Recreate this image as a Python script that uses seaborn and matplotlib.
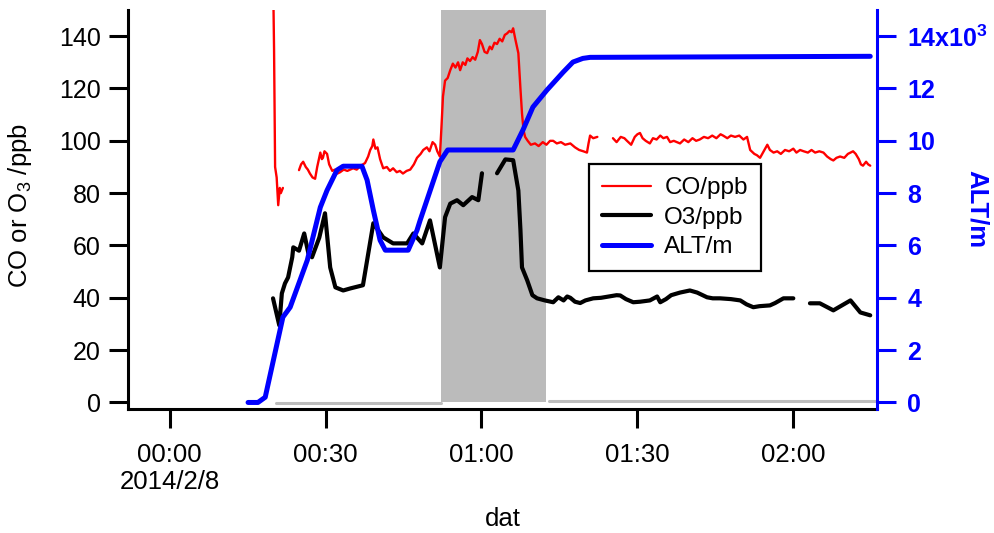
import numpy as np
import pandas as pd
import matplotlib
matplotlib.use("Agg")
import matplotlib.pyplot as plt
from matplotlib.lines import Line2D
import seaborn as sns

# ---------------- data (minutes after 2014/2/8 00:00) ----------------
NA = np.nan
alt_t = [15.1, 17.0, 18.4, 21.8, 23.2, 26.5, 29.0, 30.3, 32.2, 33.4, 37.0, 38.0, 39.2,
         40.5, 41.5, 45.9, 47.6, 48.2, 52.0, 53.5, 54.4, 66.1, 68.0, 69.9, 72.6, 75.7,
         77.6, 79.5, 80.9, 134.8]
alt_m = [0, 0, 200, 3260, 3640, 5440, 7460, 8110, 8880, 9030, 9030, 8500, 7350,
         6200, 5820, 5820, 6580, 6960, 9200, 9650, 9650, 9650, 10420, 11290, 11940, 12620,
         13010, 13150, 13190, 13230]

o3_t = [19.9, 21.1, 21.6, 22.2, 22.8, 23.6, 23.8, 24.9, 25.9, 26.7, 27.4, 28.8, 29.9,
        30.9, 31.9, 33.4, 34.8, 37.2, 39.2, 41.1, 43.0, 45.7, 46.9, 48.6, 50.1, 52.0,
        53.0, 54.0, 55.3, 56.5, 58.2, 59.4, 60.1, NA,
        63.0, 64.6, 66.1, 67.1, 67.5, 67.8, 68.8, 69.8, 70.7, 72.2, 73.8, 74.8, 75.8,
        76.5, 77.1, 78.0, 79.0, 80.0, 81.5, 83.0, 84.5, 86.0, 86.7, 87.8, 89.2, 90.5,
        92.4, 93.8, 94.4, 95.5, 96.5, 98.2, 100.1, 101.5, 103.4, 104.5, 105.9, 108.0,
        109.8, 111.0, 112.3, 113.5, 115.5, 116.5, 118.1, 120.0, NA,
        123.2, 125.1, 127.7, 131.0, 132.9, 134.8]
o3_ppb = [39.8, 29.5, 41.7, 45.5, 47.8, 55.5, 59.3, 58.0, 64.6, 57.0, 55.5, 63.0, 72.3,
          51.6, 44.0, 42.8, 43.6, 44.8, 68.5, 63.1, 60.8, 60.8, 64.6, 60.8, 69.6, 51.6,
          70.8, 76.0, 77.3, 75.4, 78.5, 77.3, 87.6, NA,
          87.6, 92.9, 92.6, 81.0, 66.0, 51.6, 46.7, 41.0, 39.8, 39.0, 38.3, 40.2, 39.0,
          40.5, 40.0, 38.5, 38.0, 39.0, 39.8, 40.0, 40.5, 41.0, 40.9, 39.5, 38.3, 38.5,
          39.0, 40.5, 38.3, 39.5, 41.0, 42.0, 42.8, 42.0, 40.2, 39.8, 39.8, 39.5,
          39.0, 37.5, 36.4, 36.8, 37.1, 38.0, 39.8, 39.8, NA,
          37.9, 37.9, 35.2, 39.0, 34.4, 33.3]

co_t = [19.9, 20.0, 20.1, 20.3, 20.6, 20.9, 21.2, 21.4, 21.8, NA,
        24.9, 25.3, 25.7, 26.2, 26.6, 27.0, 27.5, 28.0, 28.4, 29.0, 29.3, 29.5, 29.8,
        30.3, 30.7, 31.3, 31.8, 32.3, 32.8, 33.5, 34.2, 35.3, 36.0, 36.8, 37.6, 38.2,
        38.6, 39.0, 39.2, 39.6, 40.0, 40.5, 41.1, 41.8, 42.4, 43.0, 43.7, 44.3, 44.9,
        45.6, 46.3, 47.0, 47.6, 48.3, 48.8, 49.5, 50.0, 50.6, 51.1, 51.5, 52.0, 52.3,
        52.6, 53.0, 53.5, 54.0, 54.5, 55.0, 55.5, 55.9, 56.4, 56.9, 57.3, 57.8, 58.3,
        58.8, 59.3, 59.7, 60.1, 60.6, 61.1, 61.6, 62.0, 62.5, 63.0, 63.5, 64.0, 64.5,
        64.9, 65.4, 65.8, 66.1, 66.5, 67.1, 67.5, 67.8, 68.1, 68.4, 68.9, 69.5, 70.3,
        71.0, 71.8, 72.5, 73.2, 73.8, 74.5, 75.3, 76.1, 77.1, 78.0, 78.8, 79.6, 80.3,
        80.6, 80.9, 81.5, 82.3, NA,
        85.3, 86.0, 86.8, 87.5, 88.0, 88.8, 89.5, 90.0, 90.5, 91.0, 91.6, 92.4, 93.0,
        93.7, 94.4, 95.0, 95.7, 96.3, 97.0, 97.6, 98.2, 99.0, 99.8, 100.6, 101.3,
        102.0, 102.8, 103.6, 104.4, 105.2, 106.0, 106.5, 107.3, 108.0, 108.8, 109.6,
        110.4, 111.1, 111.4, 111.7, 112.5, 113.0, 113.6, 114.3, 115.0, 115.5, 116.2,
        116.9, 117.6, 118.4, 119.2, 120.0, 120.6, 121.3, 122.0, 122.8, 123.5, 124.2,
        125.0, 125.8, 126.5, 127.2, 127.7, 128.3, 129.0, 129.8, 130.5, 131.0, 131.5,
        132.0, 132.6, 133.0, 133.4, 134.0, 134.4, 134.8]
co_ppb = [175, 150, 135, 90, 86, 75.4, 82, 80, 82, NA,
          88.8, 91, 92, 90, 89, 87.5, 86, 85.5, 90, 95.5, 93, 93.5, 96,
          95, 91, 88.5, 89, 87.5, 88, 89, 88.5, 89.5, 89, 90.5, 91.5, 94,
          96.5, 98, 100.5, 97, 97.5, 93, 89.5, 90, 88.5, 89.5, 88, 88.5, 87.5,
          88.5, 89, 91, 93.5, 95, 96.5, 97.5, 96, 99.5, 98.5, 96, 94, 105,
          117, 123, 124, 127, 129.5, 128, 130, 127, 130, 129, 131.5, 130.5, 132,
          131, 134, 138.5, 137, 134, 133.5, 136, 135, 137.5, 137, 139, 138, 140.5,
          141, 142, 141.5, 143, 139, 133.5, 120, 110.5, 104, 101.5, 100, 98.5, 99,
          98, 99.5, 98.5, 100, 100, 99, 99.5, 98.5, 99, 97.5, 96.5, 96, 95.5,
          99, 102, 101, 101.5, NA,
          101, 99.5, 101.5, 101, 100, 98.5, 101.5, 102.5, 103, 101, 100, 99, 101,
          100.5, 102, 101, 101.5, 99.5, 100, 99.5, 99, 100.5, 99.5, 101, 100,
          100.5, 101.5, 101, 102, 101, 102.5, 102, 101, 102, 101.5, 102,
          100.5, 101.5, 99, 96.5, 95, 94.5, 93.5, 96, 98.5, 96.5, 95.5,
          96, 95, 96.5, 96, 97, 95.5, 96.5, 96, 95.5, 96.5, 95.5,
          96, 95.5, 94, 93, 92.5, 93.5, 94, 93.5, 95, 95.5, 96,
          95, 93, 91, 90.5, 92, 91, 90.5]

flag_t = [20.5, 52.2, NA, 73.0, 136.0]
flag_v = [-0.3, -0.3, NA, 0.6, 0.6]

shade_start, shade_end = 52.2, 72.4       # minutes
left_ylim = (-2.5, 150)
right_ylim = (-250, 15000)
x_range = (-8.0, 136.1)                    # minutes
x_tick_min = [0, 30, 60, 90, 120]
x_tick_labels = ["00:00\n2014/2/8", "00:30", "01:00", "01:30", "02:00"]
alt_ticks = [0, 2000, 4000, 6000, 8000, 10000, 12000, 14000]
alt_tick_labels = ["0", "2", "4", "6", "8", "10", "12", r"14x10$^{\mathbf{3}}$"]
left_ticks = [0, 20, 40, 60, 80, 100, 120, 140]
legend_labels = ["CO/ppb", "O3/ppb", "ALT/m"]

base = pd.Timestamp("2014-02-08 00:00:00")


def to_time(m):
    return base + pd.to_timedelta(m, unit="min")


def segments(t, v, name):
    df = pd.DataFrame({"t": t, name: v})
    df["seg"] = df["t"].isna().cumsum()
    df = df.dropna().copy()
    df["time"] = to_time(df["t"].values)
    return df


alt_df = segments(alt_t, alt_m, "alt")
o3_df = segments(o3_t, o3_ppb, "o3")
co_df = segments(co_t, co_ppb, "co")
flag_df = segments(flag_t, flag_v, "flag")

# ---------------- style ----------------
sns.set_style("white")
plt.rcParams["font.family"] = ["Liberation Sans", "DejaVu Sans"]
plt.rcParams["mathtext.fontset"] = "custom"
plt.rcParams["mathtext.rm"] = "Liberation Sans"
plt.rcParams["mathtext.it"] = "Liberation Sans:italic"
plt.rcParams["mathtext.bf"] = "Liberation Sans:bold"
for k in ["text.color", "axes.labelcolor", "xtick.color", "ytick.color"]:
    plt.rcParams[k] = "black"

fig = plt.figure(figsize=(9.94, 5.33), dpi=100)
ax = fig.add_axes([128 / 994, 1 - 409 / 533, 749 / 994, 399 / 533])
ax2 = ax.twinx()

# shaded period
ax.fill_between([to_time(shade_start), to_time(shade_end)], 0, left_ylim[1],
                color="#bbbbbb", linewidth=0, zorder=0)

sns.lineplot(data=flag_df, x="time", y="flag", units="seg", estimator=None,
             color="#bdbdbd", linewidth=2.2, ax=ax, legend=False, zorder=1)
sns.lineplot(data=co_df, x="time", y="co", units="seg", estimator=None,
             color="red", linewidth=1.7, ax=ax, legend=False, zorder=2)
sns.lineplot(data=o3_df, x="time", y="o3", units="seg", estimator=None,
             color="black", linewidth=3.0, ax=ax, legend=False, zorder=3)
sns.lineplot(data=alt_df, x="time", y="alt", units="seg", estimator=None,
             color="blue", linewidth=3.6, ax=ax2, legend=False, zorder=3)

ax.set_xlim(to_time(x_range[0]), to_time(x_range[1]))
ax.set_ylim(*left_ylim)
ax2.set_ylim(*right_ylim)

ax.set_xticks([to_time(m) for m in x_tick_min])
ax.set_xticklabels(x_tick_labels, fontsize=18.5, color="black")
ax.set_yticks(left_ticks)
ax.set_yticklabels([str(v) for v in left_ticks], fontsize=18, color="black")
ax2.set_yticks(alt_ticks)
ax2.set_yticklabels(alt_tick_labels, fontsize=18, fontweight="bold", color="blue")

ax.tick_params(axis="both", which="major", direction="out", length=13.7,
               width=2.2, color="black", left=True, bottom=True)
ax.tick_params(axis="x", pad=10.5)
ax.tick_params(axis="y", pad=6)
ax2.tick_params(axis="y", direction="out", length=13.7, width=2.2, color="blue",
                labelcolor="blue", pad=8, right=True)

for s in ["top", "right"]:
    ax.spines[s].set_visible(False)
for s in ["left", "bottom"]:
    ax.spines[s].set_linewidth(2.2)
    ax.spines[s].set_color("black")
for s in ["top", "left", "bottom"]:
    ax2.spines[s].set_visible(False)
ax2.spines["right"].set_color("blue")
ax2.spines["right"].set_linewidth(2.2)

ax.set_xlabel("dat", fontsize=18.5, va="center", color="black")
ax.xaxis.set_label_coords(0.5007, -0.275)
ax.set_ylabel(r"CO or O$_\mathrm{3}$ /ppb", fontsize=18.5, va="center", ha="center",
              color="black")
ax.yaxis.set_label_coords(-0.1442, 0.51)
ax2.set_ylabel("ALT/m", fontsize=18.5, fontweight="bold", color="blue",
               rotation=-90, va="center", ha="center")
ax2.yaxis.set_label_coords(1.1335, 0.5)

handles = [Line2D([], [], color="red", lw=1.6),
           Line2D([], [], color="black", lw=3.0),
           Line2D([], [], color="blue", lw=3.6)]
leg = ax2.legend(handles, legend_labels, loc="upper left",
                 bbox_to_anchor=(0.6155, 0.614), borderaxespad=0,
                 frameon=True, fancybox=False, framealpha=1, edgecolor="black",
                 fontsize=17.5, handlelength=2.0, handletextpad=0.55,
                 labelspacing=0.3, borderpad=0.55)
leg.get_frame().set_linewidth(1.6)

fig.savefig("out.png", dpi=100)
